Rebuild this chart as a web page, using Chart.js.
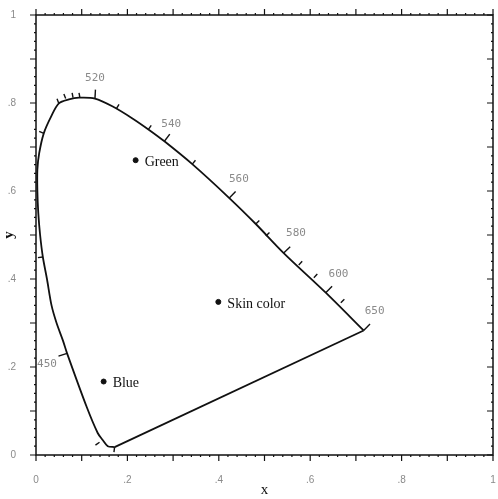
<!DOCTYPE html>
<html>
<head>
<meta charset="utf-8">
<script src="https://cdn.jsdelivr.net/npm/chart.js@4.4.0/dist/chart.umd.min.js"></script>
<style>
  html, body { margin: 0; padding: 0; background: #fff; }
  #wrap { width: 498px; height: 499px; }
</style>
</head>
<body>
<div id="wrap"><canvas id="cie" width="498" height="499"></canvas></div>
<script>
// spectral locus (blue end -> up the left side -> red end)
const locusX = [0.172, 0.157, 0.146, 0.135, 0.111, 0.068, 0.059, 0.045, 0.034, 0.024, 0.015, 0.009, 0.005,
  0.003, 0.003, 0.007, 0.017, 0.033, 0.050, 0.072, 0.094, 0.129, 0.168, 0.211, 0.246, 0.281, 0.342, 0.423,
  0.481, 0.542, 0.634, 0.717];
const locusY = [0.018, 0.020, 0.034, 0.050, 0.109, 0.231, 0.260, 0.300, 0.340, 0.400, 0.450, 0.500, 0.550,
  0.600, 0.649, 0.686, 0.731, 0.769, 0.799, 0.808, 0.812, 0.810, 0.792, 0.765, 0.740, 0.713, 0.661, 0.584,
  0.525, 0.459, 0.369, 0.283];

// wavelength marks on the locus
const waveNames = ["520", "540", "560", "580", "600", "650", "450"];
const waveTickX = [0.129, 0.281, 0.423, 0.542, 0.634, 0.717, 0.068];
const waveTickY = [0.810, 0.713, 0.584, 0.459, 0.369, 0.283, 0.231];
const waveLabelX = [0.129, 0.296, 0.444, 0.569, 0.662, 0.741, 0.024];
const waveLabelY = [0.857, 0.753, 0.627, 0.504, 0.411, 0.328, 0.206];

// small unlabeled marks on the locus
const minorTickX = [0.017, 0.050, 0.065, 0.081, 0.096, 0.176, 0.246, 0.342, 0.481, 0.503, 0.575, 0.608, 0.667,
  0.015, 0.139, 0.172];
const minorTickY = [0.731, 0.799, 0.810, 0.812, 0.812, 0.787, 0.740, 0.661, 0.525, 0.498, 0.432, 0.403, 0.346,
  0.450, 0.029, 0.018];

// sample colours
const sampleNames = ["Green", "Skin color", "Blue"];
const sampleX = [0.218, 0.399, 0.148];
const sampleY = [0.670, 0.348, 0.167];

const axisLabels = ["0", ".2", ".4", ".6", ".8", "1"];

const locusData = locusX.map((x, i) => ({ x: x, y: locusY[i] }));
const last = locusX.length - 1;
// line of purples, red end back to the blue end
const purpleData = [{ x: locusX[last], y: locusY[last] }, { x: locusX[0], y: locusY[0] }];
const sampleData = sampleX.map((x, i) => ({ x: x, y: sampleY[i] }));

const fmtTick = (v) => axisLabels[Math.round(v * 5)] || "";

// outward normal of the locus near a pixel point
const locusNormal = (xs, ys, px, py) => {
  let best = 0;
  let bestD = Infinity;
  for (let i = 0; i < xs.length - 1; i++) {
    const mx = (xs[i] + xs[i + 1]) / 2;
    const my = (ys[i] + ys[i + 1]) / 2;
    const d = (mx - px) ** 2 + (my - py) ** 2;
    if (d < bestD) { bestD = d; best = i; }
  }
  const dx = xs[best + 1] - xs[best];
  const dy = ys[best + 1] - ys[best];
  const len = Math.hypot(dx, dy) || 1;
  return { nx: dy / len, ny: -dx / len };
};

const diagramMarks = {
  id: "diagramMarks",
  afterDraw(chart) {
    const { ctx, chartArea: a, scales } = chart;
    const sx = scales.x;
    const sy = scales.y;
    ctx.save();

    // frame
    ctx.strokeStyle = "#111";
    ctx.lineWidth = 1.5;
    ctx.strokeRect(a.left, a.top, a.right - a.left, a.bottom - a.top);

    // axis ticks, major every 0.1, minor every 0.02
    ctx.lineWidth = 1.2;
    for (let k = 0; k <= 50; k++) {
      const v = k / 50;
      const len = k % 5 === 0 ? 6 : 2;
      const px = sx.getPixelForValue(v);
      const py = sy.getPixelForValue(v);
      ctx.beginPath();
      ctx.moveTo(px, a.bottom); ctx.lineTo(px, a.bottom + len);
      ctx.moveTo(px, a.top); ctx.lineTo(px, a.top - len);
      ctx.moveTo(a.left, py); ctx.lineTo(a.left - len, py);
      ctx.moveTo(a.right, py); ctx.lineTo(a.right - len, py);
      ctx.stroke();
    }

    // ticks on the locus
    const lx = locusX.map((v) => sx.getPixelForValue(v));
    const ly = locusY.map((v) => sy.getPixelForValue(v));
    const drawLocusTick = (x, y, len) => {
      const px = sx.getPixelForValue(x);
      const py = sy.getPixelForValue(y);
      const n = locusNormal(lx, ly, px, py);
      ctx.beginPath();
      ctx.moveTo(px, py);
      ctx.lineTo(px + n.nx * len, py + n.ny * len);
      ctx.stroke();
    };
    ctx.lineWidth = 1.4;
    waveTickX.forEach((x, i) => drawLocusTick(x, waveTickY[i], 9));
    minorTickX.forEach((x, i) => drawLocusTick(x, minorTickY[i], 5));

    // wavelength labels
    ctx.fillStyle = "#8a8a8a";
    ctx.font = "11px 'DejaVu Sans Mono'";
    ctx.textAlign = "center";
    ctx.textBaseline = "middle";
    waveNames.forEach((t, i) => {
      ctx.fillText(t, sx.getPixelForValue(waveLabelX[i]), sy.getPixelForValue(waveLabelY[i]));
    });

    // sample labels
    ctx.fillStyle = "#111";
    ctx.font = "14px 'Liberation Serif'";
    ctx.textAlign = "left";
    sampleNames.forEach((t, i) => {
      ctx.fillText(t, sx.getPixelForValue(sampleX[i]) + 9, sy.getPixelForValue(sampleY[i]) + 2);
    });
    ctx.restore();
  },
};

// fixed box sizes so the plot area sits where the scan has it
const fitBox = (w, h) => (s) => {
  if (w !== null) s.width = w;
  if (h !== null) s.height = h;
  s.paddingLeft = 0;
  s.paddingRight = 0;
  s.paddingTop = 0;
  s.paddingBottom = 0;
};

const scaleBase = (pos, fit) => ({
  type: "linear",
  position: pos,
  min: 0,
  max: 1,
  grid: { display: false },
  border: { display: false },
  afterFit: fit,
});

new Chart(document.getElementById("cie"), {
  type: "scatter",
  data: {
    datasets: [
      {
        label: "Spectral locus",
        data: locusData,
        showLine: true,
        borderColor: "#111",
        borderWidth: 1.8,
        pointRadius: 0,
        tension: 0.3,
      },
      {
        label: "Purple line",
        data: purpleData,
        showLine: true,
        borderColor: "#111",
        borderWidth: 1.8,
        pointRadius: 0,
      },
      {
        label: "Samples",
        data: sampleData,
        pointRadius: 2.5,
        backgroundColor: "#111",
        borderColor: "#111",
      },
    ],
  },
  options: {
    responsive: false,
    animation: false,
    layout: { padding: 0 },
    plugins: { legend: { display: false }, tooltip: { enabled: false } },
    scales: {
      x: {
        ...scaleBase("bottom", fitBox(null, 44)),
        ticks: { stepSize: 0.2, padding: 11, color: "#8a8a8a", font: { size: 10 }, callback: fmtTick, maxRotation: 0 },
        title: { display: true, text: "x", color: "#111", font: { size: 15, family: "'Liberation Serif'" }, padding: 0 },
      },
      y: {
        ...scaleBase("left", fitBox(36, null)),
        ticks: { stepSize: 0.2, padding: 12, color: "#8a8a8a", font: { size: 10 }, callback: fmtTick },
        title: { display: true, text: "y", color: "#111", font: { size: 15, family: "'Liberation Serif'", weight: "bold" }, padding: 0 },
      },
      x2: {
        ...scaleBase("top", fitBox(null, 15)),
        ticks: { display: false },
      },
      y2: {
        ...scaleBase("right", fitBox(3, null)),
        ticks: { display: false },
      },
    },
  },
  plugins: [diagramMarks],
});
</script>
</body>
</html>
